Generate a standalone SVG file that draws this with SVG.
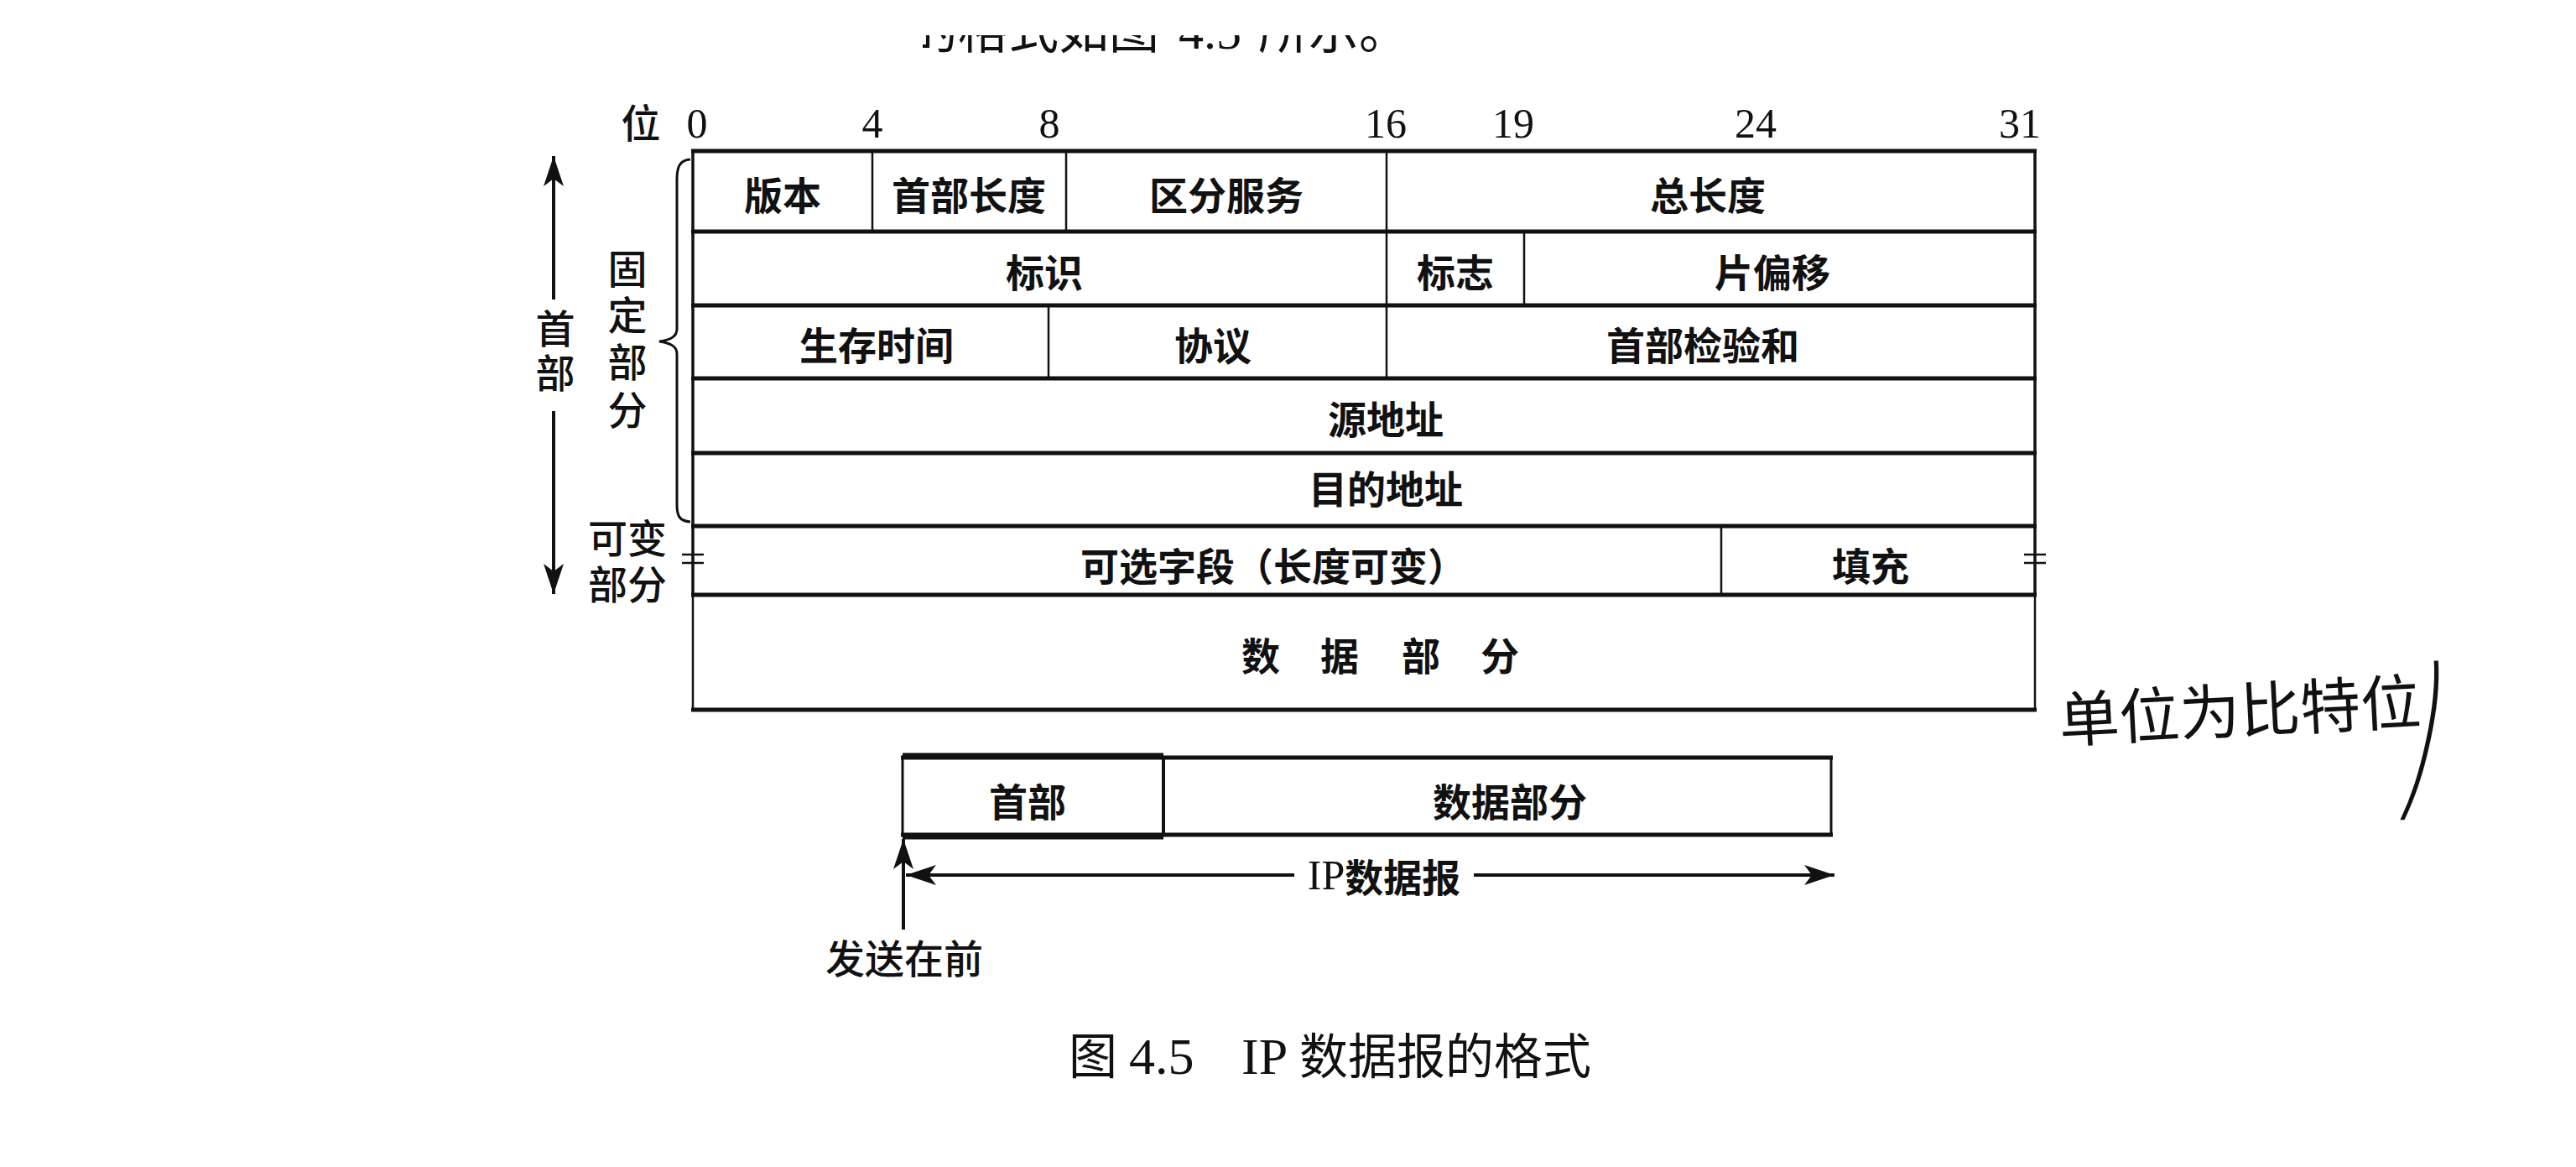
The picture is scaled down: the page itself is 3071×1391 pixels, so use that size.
<svg xmlns="http://www.w3.org/2000/svg" width="3071" height="1391" viewBox="0 0 3071 1391">
<style>
.cj{font-family:'Noto Sans CJK SC','Noto Sans CJK JP',sans-serif;font-size:46px;fill:#111;text-anchor:middle;dominant-baseline:central;font-weight:bold}
.lb{font-family:'Liberation Sans','Noto Sans CJK SC',sans-serif;font-size:47px;fill:#111;text-anchor:middle;dominant-baseline:central;font-weight:500}
.num{font-family:'Liberation Serif',serif;font-size:50px;fill:#111;text-anchor:middle;dominant-baseline:central}
.h{stroke:#111;stroke-width:5;fill:none}
.v{stroke:#111;stroke-width:3.5;fill:none}
.vi{stroke:#111;stroke-width:2.5;fill:none}
.ar{stroke:#111;stroke-width:4;fill:none}
</style>
<defs>
<marker id="ah" markerUnits="userSpaceOnUse" markerWidth="50" markerHeight="40" viewBox="-40 -20 50 40" refX="0" refY="0" orient="auto">
<path d="M0,0 L-36,-12 L-27,0 L-36,12 Z" fill="#111"/>
</marker>
<clipPath id="topclip"><rect x="1100" y="42" width="700" height="40"/></clipPath>
</defs>
<rect width="3071" height="1391" fill="#fff"/>

<g id="cut-text" clip-path="url(#topclip)">
<text y="58" font-family="'Liberation Serif','Noto Sans CJK SC',serif" font-size="60" fill="#111"><tspan x="1082">的格式如图</tspan><tspan x="1405">4.5</tspan><tspan x="1500">所示。</tspan></text>
</g>

<g id="bit-scale">
<text class="lb" x="764" y="147">位</text>
<text class="num" x="831" y="147">0</text>
<text class="num" x="1040" y="147">4</text>
<text class="num" x="1251" y="147">8</text>
<text class="num" x="1652" y="147">16</text>
<text class="num" x="1804" y="147">19</text>
<text class="num" x="2093" y="147">24</text>
<text class="num" x="2408" y="147">31</text>
</g>

<g id="grid">
<line class="h" x1="824" y1="180" x2="2428" y2="180"/>
<line class="h" x1="824" y1="276" x2="2428" y2="276"/>
<line class="h" x1="824" y1="364" x2="2428" y2="364"/>
<line class="h" x1="824" y1="451" x2="2428" y2="451"/>
<line class="h" x1="824" y1="540" x2="2428" y2="540"/>
<line class="h" x1="824" y1="627" x2="2428" y2="627"/>
<line class="h" x1="824" y1="709" x2="2428" y2="709"/>
<line class="h" x1="824" y1="846" x2="2428" y2="846"/>
<line class="v" x1="826" y1="178" x2="826" y2="711"/>
<line class="v" x1="2426" y1="178" x2="2426" y2="711"/>
<line class="vi" x1="826" y1="709" x2="826" y2="848"/>
<line class="vi" x1="2426" y1="709" x2="2426" y2="848"/>
<line class="vi" x1="1040" y1="180" x2="1040" y2="276"/>
<line class="vi" x1="1271" y1="180" x2="1271" y2="276"/>
<line class="vi" x1="1653" y1="180" x2="1653" y2="451"/>
<line class="vi" x1="1817" y1="276" x2="1817" y2="364"/>
<line class="vi" x1="1250" y1="364" x2="1250" y2="451"/>
<line class="vi" x1="2052" y1="627" x2="2052" y2="709"/>
<line class="vi" x1="813" y1="661" x2="839" y2="661"/>
<line class="vi" x1="813" y1="671" x2="839" y2="671"/>
<line class="vi" x1="2413" y1="661" x2="2439" y2="661"/>
<line class="vi" x1="2413" y1="671" x2="2439" y2="671"/>
</g>

<g id="cell-version"><text class="cj" x="933" y="230">版本</text></g>
<g id="cell-ihl"><text class="cj" x="1155" y="230">首部长度</text></g>
<g id="cell-ds"><text class="cj" x="1462" y="230">区分服务</text></g>
<g id="cell-total"><text class="cj" x="2036" y="230">总长度</text></g>
<g id="cell-id"><text class="cj" x="1245" y="322">标识</text></g>
<g id="cell-flags"><text class="cj" x="1735" y="322">标志</text></g>
<g id="cell-frag"><text class="cj" x="2113" y="322">片偏移</text></g>
<g id="cell-ttl"><text class="cj" x="1045" y="409">生存时间</text></g>
<g id="cell-proto"><text class="cj" x="1446" y="409">协议</text></g>
<g id="cell-checksum"><text class="cj" x="2030" y="409">首部检验和</text></g>
<g id="cell-src"><text class="cj" x="1652" y="497">源地址</text></g>
<g id="cell-dst"><text class="cj" x="1652" y="580">目的地址</text></g>
<g id="cell-options"><text class="cj" x="1518" y="672">可选字段（长度可变）</text></g>
<g id="cell-padding"><text class="cj" x="2230" y="672">填充</text></g>
<g id="cell-data">
<text class="cj" x="1641" y="779"><tspan x="1503">数</tspan><tspan x="1597">据</tspan><tspan x="1694">部</tspan><tspan x="1788">分</tspan></text>
</g>

<g id="label-header">
<text class="lb"><tspan x="662" y="392">首</tspan><tspan x="662" y="445">部</tspan></text>
</g>
<g id="label-fixed">
<text class="lb"><tspan x="748" y="321">固</tspan><tspan x="748" y="376">定</tspan><tspan x="748" y="432">部</tspan><tspan x="748" y="489">分</tspan></text>
<path d="M823,190 C810,191 807,199 807,214 L807,392 C807,401 800,405 786,407 C800,409 807,413 807,422 L807,602 C807,615 810,621 823,622" stroke="#111" stroke-width="3" fill="none"/>
</g>
<g id="label-variable">
<text class="lb"><tspan x="748" y="642">可变</tspan><tspan x="748" y="697">部分</tspan></text>
</g>

<g id="packet">
<rect x="1076" y="903" width="1107" height="92" fill="none" stroke="#111" stroke-width="3"/>
<line class="h" x1="1074" y1="903" x2="2185" y2="903"/>
<line class="h" x1="1074" y1="995" x2="2185" y2="995"/>
<line x1="1076" y1="901" x2="1387" y2="901" stroke="#111" stroke-width="7"/>
<line x1="1076" y1="997" x2="1387" y2="997" stroke="#111" stroke-width="7"/>
<line x1="1387" y1="901" x2="1387" y2="997" stroke="#111" stroke-width="4"/>
</g>
<g id="packet-header"><text class="cj" x="1225" y="953">首部</text></g>
<g id="packet-data"><text class="cj" x="1800" y="953">数据部分</text></g>

<g id="connectors">
<line class="ar" x1="660" y1="357" x2="660" y2="186" marker-end="url(#ah)"/>
<line class="ar" x1="660" y1="490" x2="660" y2="708" marker-end="url(#ah)"/>
<line class="ar" x1="1077" y1="1108" x2="1077" y2="1000" marker-end="url(#ah)" stroke-width="3"/>
<line class="ar" x1="1543" y1="1043" x2="1080" y2="1043" marker-end="url(#ah)"/>
<line class="ar" x1="1757" y1="1043" x2="2187" y2="1043" marker-end="url(#ah)"/>
</g>
<g id="label-ip"><text class="cj" x="1650" y="1043"><tspan font-family="'Liberation Serif',serif" font-weight="normal" font-size="50">IP</tspan>数据报</text></g>
<g id="label-send"><text class="lb" x="1078" y="1143">发送在前</text></g>

<g id="note">
<text x="2670" y="842" font-family="'Noto Sans CJK SC',sans-serif" font-size="72" fill="#111" text-anchor="middle" dominant-baseline="central" transform="rotate(-3 2670 842)">单位为比特位</text>
<text transform="translate(2880,935) skewX(-12) scale(0.55,1.85)" font-family="'Liberation Sans',sans-serif" font-size="110" fill="#111" text-anchor="middle">)</text>
</g>

<g id="caption">
<text y="1280" font-size="58" fill="#111" font-family="'Noto Sans CJK SC',sans-serif"><tspan x="1274">图</tspan><tspan x="1346" font-family="'Liberation Serif',serif" font-size="62">4.5</tspan><tspan x="1480" font-family="'Liberation Serif',serif" font-size="62">IP</tspan><tspan x="1549">数据报的格式</tspan></text>
</g>
</svg>
